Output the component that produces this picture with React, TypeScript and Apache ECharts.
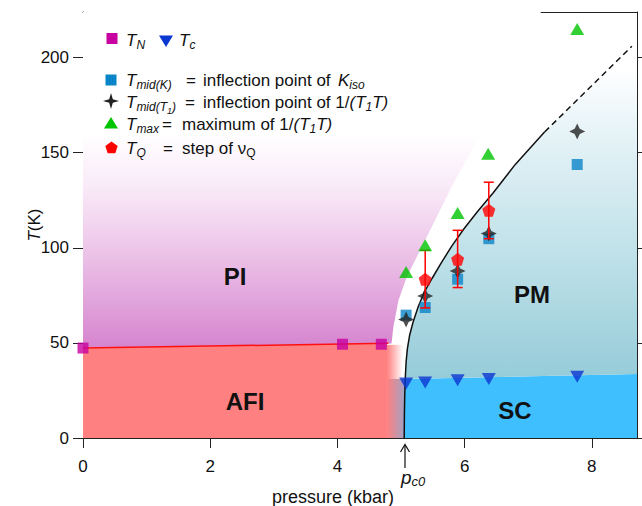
import React, { useEffect, useRef } from "react";
import * as echarts from "echarts";

// ---------- data ----------
const xTicks = [0, 2, 4, 6, 8];
const yTicks = [0, 50, 100, 150, 200];
const X_MAX = 8.71;
const Y_MAX = 224;

const tN = [[0, 47.3], [4.08, 49.3], [4.69, 49.3]];
const tC = [[5.08, 28.7], [5.38, 29.2], [5.89, 30.4], [6.38, 31], [7.77, 32.2]];
const tMidK = [[5.08, 64.6], [5.38, 68.6], [5.89, 83.5], [6.38, 104.8], [7.77, 143.8]];
const tMidT1 = [[5.08, 62.3], [5.38, 74.7], [5.89, 87.8], [6.38, 107.5], [7.77, 161.2]];
const tMax = [[5.08, 87.3], [5.38, 101.3], [5.89, 118.3], [6.37, 149.4], [7.77, 215]];
const tQ = [[5.38, 83.5], [5.89, 94], [6.38, 119.7]];
const tQErr = [[5.38, 68.4, 98.7], [5.89, 79.1, 109.2], [6.38, 104.8, 134.5]];

const tNLine = [[0, 47.3], [4.8, 49.8]];
const curveSolid = [
  [5.05, 0], [5.053, 12], [5.058, 22], [5.066, 31], [5.08, 40], [5.1, 47], [5.135, 54],
  [5.19, 61], [5.27, 69], [5.37, 77], [5.49, 84], [5.63, 92], [5.8, 101], [5.99, 110],
  [6.2, 119], [6.45, 129], [6.8, 144], [7.26, 161],
];
const curveDashed = [[7.26, 161], [8.63, 206]];
const scTop = [[5.066, 31], [8.71, 33.7]];
const piEdge = [
  [4.85, 49.7], [4.88, 58.4], [4.96, 72.4], [5.09, 84.7], [5.3, 98.7], [5.56, 116.2],
  [5.82, 133.7], [6.08, 149.4], [6.5, 175], [7.2, 224],
];
const afiEdge = 4.78;
const phaseLabels = ["PI", "AFI", "PM", "SC"];

const FONT = "'Liberation Sans', Arial, Helvetica, sans-serif";
const STAR = "path://M0,-10 L3.2,-3.2 L10,0 L3.2,3.2 L0,10 L-3.2,3.2 L-10,0 L-3.2,-3.2 Z";
const PENTA = "path://M0,-10 L9.51,-3.09 L5.88,8.09 L-5.88,8.09 L-9.51,-3.09 Z";

const C_TN = "#c800a0";
const C_TC = "#0a36d2";
const C_MIDK = "#0a84c8";
const C_STAR = "#222222";
const C_MAX = "#00c400";
const C_Q = "#ff0000";

function starPts(cx: number, cy: number, r: number, ri: number) {
  const pts: number[][] = [];
  for (let k = 0; k < 8; k++) {
    const a = (k * Math.PI) / 4 - Math.PI / 2;
    const rr = k % 2 === 0 ? r : ri;
    pts.push([cx + rr * Math.cos(a), cy + rr * Math.sin(a)]);
  }
  return pts;
}
function pentaPts(cx: number, cy: number, r: number) {
  const pts: number[][] = [];
  for (let k = 0; k < 5; k++) {
    const a = (k * 2 * Math.PI) / 5 - Math.PI / 2;
    pts.push([cx + r * Math.cos(a), cy + r * Math.sin(a)]);
  }
  return pts;
}

export default function App() {
  const ref = useRef<HTMLDivElement>(null);
  useEffect(() => {
    const chart = echarts.init(ref.current!, null, { renderer: "svg" });

    const scPoly = [
      ...curveSolid.filter((p) => p[1] <= scTop[0][1]),
      scTop[1],
      [X_MAX, 0],
    ];
    const pmPoly = [
      ...curveSolid.filter((p) => p[1] >= scTop[0][1]),
      curveDashed[1],
      [X_MAX, 208],
      scTop[1],
    ];
    const regions: any[] = [
      { pts: [[0, 0], [afiEdge, 0], [afiEdge, tNLine[1][1]], tNLine[0]], fill: "#ff8080" },
      {
        pts: [[afiEdge, scTop[0][1]], [5.04, scTop[0][1]], [5.04, 49], [afiEdge, 49]],
        grad: { dir: "h", stops: [[afiEdge, "#ff8080"], [5.03, "#ffffff"]] },
      },
      {
        pts: [[afiEdge, 0], [curveSolid[0][0], 0], scTop[0], [afiEdge, scTop[0][1]]],
        grad: { dir: "h", stops: [[afiEdge, "#ff8080"], [5.05, "#a4a2c2"]] },
      },
      {
        pts: [tNLine[0], ...piEdge, [0, Y_MAX]],
        grad: { dir: "v", stops: [[48, "#d685cf"], [75, "#e2a8dd"], [104, "#efcbeb"], [132, "#f9eaf8"], [160, "#ffffff"]] },
      },
      { pts: scPoly, fill: "#40bfff" },
      {
        pts: pmPoly,
        grad: { dir: "v", stops: [[32, "#96ccd9"], [93, "#bde0e8"], [160, "#e6f3f7"], [195, "#ffffff"]] },
      },
    ];

    const richBase = {
      i: { fontStyle: "italic", fontSize: 17, fontFamily: FONT, fill: "#111" },
      n: { fontSize: 17, fontFamily: FONT, fill: "#111" },
      s: { fontStyle: "italic", fontSize: 12, fontFamily: FONT, fill: "#111", padding: [10, 0, 0, 0] },
      ss: { fontStyle: "italic", fontSize: 9, fontFamily: FONT, fill: "#111", padding: [18, 0, 0, 0] },
      u: { fontSize: 12, fontFamily: FONT, fill: "#111", padding: [10, 0, 0, 0] },
    };
    const lt = (x: number, y: number, text: string) => ({
      type: "text",
      style: { x, y, text, rich: richBase, align: "left", verticalAlign: "middle", textAlign: "left", textVerticalAlign: "middle", fontFamily: FONT, fontSize: 17, fill: "#111" },
      z: 100,
    });
    const bold = (x: number, y: number, text: string) => ({
      type: "text",
      style: { x, y, text, fontFamily: FONT, fontSize: 24, fontWeight: "bold", fill: "#111", align: "center", verticalAlign: "middle", textAlign: "center", textVerticalAlign: "middle" },
      z: 100,
    });

    const graphics: any[] = [
      // legend markers
      { type: "rect", shape: { x: 106.5, y: 33, width: 11, height: 11 }, style: { fill: C_TN }, z: 100 },
      { type: "polygon", shape: { points: [[159, 35.5], [173, 35.5], [166, 47]] }, style: { fill: C_TC }, z: 100 },
      { type: "rect", shape: { x: 105.5, y: 74.5, width: 11, height: 11 }, style: { fill: C_MIDK }, z: 100 },
      { type: "polygon", shape: { points: starPts(111, 101, 8, 2.6) }, style: { fill: C_STAR }, z: 100 },
      { type: "polygon", shape: { points: [[104, 128.5], [118, 128.5], [111, 117]] }, style: { fill: C_MAX }, z: 100 },
      { type: "polygon", shape: { points: pentaPts(111.5, 148, 6.5) }, style: { fill: C_Q }, z: 100 },
      // legend texts
      lt(126, 40, "{i|T}{s|N}"),
      lt(179, 40, "{i|T}{s|c}"),
      lt(126, 80, "{i|T}{s|mid(K)}"),
      lt(186, 80, "{n|=}"),
      lt(203, 80, "{n|inflection point of}"),
      lt(338, 80, "{i|K}{s|iso}"),
      lt(126, 102, "{i|T}{s|mid(T}{ss|1}{s|)}"),
      lt(185, 102, "{n|=}"),
      lt(203, 102, "{n|inflection point of 1/}{i|(T}{s|1}{i|T)}"),
      lt(126, 124, "{i|T}{s|max}"),
      lt(162, 124, "{n|=}"),
      lt(182, 124, "{n|maximum of 1/}{i|(T}{s|1}{i|T)}"),
      lt(126, 148, "{i|T}{s|Q}"),
      lt(163, 148, "{n|=}"),
      lt(182, 148, "{n|step of ν}{u|Q}"),
      // phase labels
      bold(235, 276, phaseLabels[0]),
      bold(245, 401, phaseLabels[1]),
      bold(532, 294, phaseLabels[2]),
      bold(515, 410, phaseLabels[3]),
      // p_c0 arrow
      { type: "line", shape: { x1: 405, y1: 468, x2: 405, y2: 445 }, style: { stroke: "#111", lineWidth: 1.2 }, z: 100 },
      { type: "polyline", shape: { points: [[400.5, 452], [405, 444.5], [409.5, 452]] }, style: { stroke: "#111", lineWidth: 1.2, fill: "none" }, z: 100 },
      {
        type: "text",
        style: {
          x: 401, y: 477, text: "{p|p}{c|c0}", align: "left", verticalAlign: "middle", textAlign: "left", textVerticalAlign: "middle",
          rich: {
            p: { fontStyle: "italic", fontSize: 19, fontFamily: FONT, fill: "#111" },
            c: { fontStyle: "italic", fontSize: 13, fontFamily: FONT, fill: "#111", padding: [9, 0, 0, 0] },
          },
        },
        z: 100,
      },
      {
        type: "text",
        style: { x: 333, y: 497, text: "pressure (kbar)", fontFamily: FONT, fontSize: 18, fill: "#111", align: "center", verticalAlign: "middle", textAlign: "center", textVerticalAlign: "middle" },
        z: 100,
      },
    ];

    const option: any = {
      animation: false,
      backgroundColor: "#ffffff",
      grid: { left: 83, right: 5, top: 12, bottom: 68, show: false, containLabel: false, outerBoundsMode: "none" },
      xAxis: [
        {
          type: "value", min: 0, max: X_MAX, interval: 2,
          axisLine: { show: true, lineStyle: { color: "#222", width: 1 } },
          axisTick: { show: true, length: 10, lineStyle: { color: "#222" }, customValues: xTicks },
          axisLabel: { fontSize: 17, color: "#111", fontFamily: FONT, margin: 20, customValues: xTicks },
          splitLine: { show: false },
        },
        {
          type: "value", min: 0, max: X_MAX, position: "top",
          axisLine: { show: true, onZero: false, lineStyle: { color: "#222", width: 1 } },
          axisTick: { show: false }, axisLabel: { show: false }, splitLine: { show: false },
        },
      ],
      yAxis: [
        {
          type: "value", min: 0, max: Y_MAX, interval: 50,
          name: "{i|T}(K)", nameLocation: "middle", nameGap: 40, nameRotate: 90, nameMoveOverlap: false,
          nameTextStyle: { fontSize: 17, color: "#111", fontFamily: FONT, rich: { i: { fontStyle: "italic", fontSize: 17, fontFamily: FONT, color: "#111" } } },
          axisLine: { show: true, lineStyle: { color: "#222", width: 1 } },
          axisTick: { show: true, length: 10, lineStyle: { color: "#222" }, customValues: yTicks },
          axisLabel: { fontSize: 17, color: "#111", fontFamily: FONT, margin: 14, customValues: yTicks },
          splitLine: { show: false },
        },
        {
          type: "value", min: 0, max: Y_MAX, interval: 50, position: "right",
          axisLine: { show: true, onZero: false, lineStyle: { color: "#222", width: 1 } },
          axisTick: { show: true, length: 7, lineStyle: { color: "#222" }, customValues: yTicks },
          axisLabel: { show: false }, splitLine: { show: false },
        },
      ],
      series: [
        {
          type: "custom", name: "regions", clip: true, silent: true, z: 1,
          data: regions.map(() => [1, 1]),
          renderItem: (params: any, api: any) => {
            const r = regions[params.dataIndex];
            const pts = r.pts.map((p: number[]) => api.coord(p));
            let fill: any = r.fill;
            if (r.grad) {
              const g = r.grad;
              const a = g.stops[0][0];
              const b = g.stops[g.stops.length - 1][0];
              const cs = g.stops.map((s: any) => ({ offset: (s[0] - a) / (b - a), color: s[1] }));
              if (g.dir === "v") {
                const y1 = api.coord([0, a])[1];
                const y2 = api.coord([0, b])[1];
                fill = new echarts.graphic.LinearGradient(0, y1, 0, y2, cs, true);
              } else {
                const x1 = api.coord([a, 0])[0];
                const x2 = api.coord([b, 0])[0];
                fill = new echarts.graphic.LinearGradient(x1, 0, x2, 0, cs, true);
              }
            }
            return { type: "polygon", shape: { points: pts }, style: { fill, stroke: "none" } };
          },
        },
        { type: "line", data: tNLine, symbol: "none", lineStyle: { color: "#ff1010", width: 1.5 }, z: 3 },
        { type: "line", data: curveSolid, symbol: "none", lineStyle: { color: "#111", width: 1.5 }, z: 3 },
        { type: "line", data: curveDashed, symbol: "none", lineStyle: { color: "#111", width: 1.5, type: [6, 4] }, z: 3 },
        { type: "scatter", data: tMidK, symbol: "rect", symbolSize: 11, itemStyle: { color: C_MIDK }, z: 4 },
        { type: "scatter", data: tMidT1, symbol: STAR, symbolSize: 16, itemStyle: { color: C_STAR }, z: 5 },
        {
          type: "custom", data: tQErr, z: 6, encode: { x: 0, y: [1, 2] },
          renderItem: (params: any, api: any) => {
            const x = api.value(0);
            const lo = api.coord([x, api.value(1)]);
            const hi = api.coord([x, api.value(2)]);
            const w = 5;
            const st = { stroke: C_Q, lineWidth: 1.5 };
            return {
              type: "group",
              children: [
                { type: "line", shape: { x1: lo[0], y1: lo[1], x2: hi[0], y2: hi[1] }, style: st },
                { type: "line", shape: { x1: lo[0] - w, y1: lo[1], x2: lo[0] + w, y2: lo[1] }, style: st },
                { type: "line", shape: { x1: hi[0] - w, y1: hi[1], x2: hi[0] + w, y2: hi[1] }, style: st },
              ],
            };
          },
        },
        { type: "scatter", data: tQ, symbol: PENTA, symbolSize: 13, itemStyle: { color: C_Q }, z: 7 },
        { type: "scatter", data: tMax, symbol: "triangle", symbolSize: [14, 12], itemStyle: { color: C_MAX }, z: 7 },
        { type: "scatter", data: tC, symbol: "triangle", symbolRotate: 180, symbolSize: [14, 12], itemStyle: { color: C_TC }, z: 7 },
        { type: "scatter", data: tN, symbol: "rect", symbolSize: 11, itemStyle: { color: C_TN }, z: 7 },
      ],
      graphic: graphics,
    };
    chart.setOption(option);
    return () => chart.dispose();
  }, []);
  return <div ref={ref} style={{ position: "absolute", left: 0, top: 0, width: 642, height: 506 }} />;
}
